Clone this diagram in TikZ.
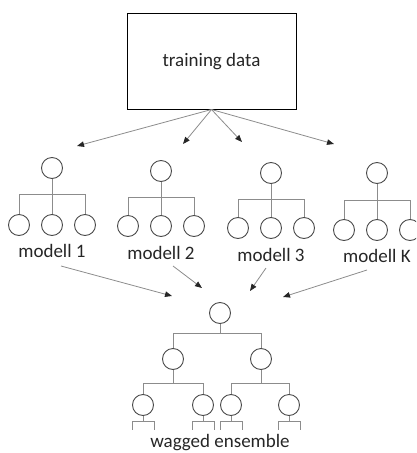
\documentclass[tikz,border=0pt]{standalone}
\usepackage{fontspec}
\setmainfont{Carlito}
\usetikzlibrary{arrows.meta,calc}
\definecolor{edgegray}{HTML}{8C8C8C}
\definecolor{circgray}{HTML}{4A4A4A}
\definecolor{txt}{HTML}{262626}
\tikzset{
  tn/.style={circle,draw=circgray,line width=0.9pt,minimum size=21pt,inner sep=0pt},
  tedge/.style={draw=edgegray,line width=0.9pt},
  arr/.style={draw=edgegray,line width=0.8pt,-{Triangle[length=7pt,width=5.5pt,color=black!85]}},
  lbl/.style={text=txt,font=\fontsize{19}{22}\selectfont,inner sep=0pt},
}
\begin{document}
\begin{tikzpicture}[x=1pt,y=-1pt]
\useasboundingbox (0,0) rectangle (416,453);
\clip (0,0) rectangle (416,453);
% training data box
\node[draw=black,line width=1pt,minimum width=169pt,minimum height=96pt,inner sep=0pt] (box) at (211.5,61) {};
\node[lbl] (td) at (211.5,62) {training data};
% top arrows
\coordinate (e1) at (77,146);
\coordinate (e2) at (183,144);
\coordinate (e3) at (242,142);
\coordinate (e4) at (334,144);
\foreach \e in {e1,e2,e3,e4} \draw[arr] (box.south) -- (\e);
% model trees
\foreach \n/\cx/\ry/\by/\cy/\ly/\txt in {
  a/52/168/194/225/251/modell 1,
  b/161/171/197/226/253/modell 2,
  c/271/173/199/228/255/modell 3,
  d/377/173/200/230/256/modell K} {
  \node[tn] (\n r) at (\cx,\ry) {};
  \coordinate (\n bar) at (\cx,\by);
  \node[tn] (\n 1) at (\cx-33,\cy) {};
  \node[tn] (\n 2) at (\cx,\cy) {};
  \node[tn] (\n 3) at (\cx+33,\cy) {};
  \draw[tedge] (\n r.south) -- (\n bar);
  \draw[tedge] (\n bar) -| (\n 1.north);
  \draw[tedge] (\n bar) -- (\n 2.north);
  \draw[tedge] (\n bar) -| (\n 3.north);
  \node[lbl] (\n lab) at (\cx,\ly) {\txt};
}
% lower arrows
\coordinate (s1) at (61,266);  \coordinate (t1) at (172,296);
\coordinate (s2) at (173,266); \coordinate (t2) at (202,288);
\coordinate (s3) at (266,268); \coordinate (t3) at (250,291);
\coordinate (s4) at (367,270); \coordinate (t4) at (283,297);
\draw[arr] (s1) -- (t1);
\draw[arr] (s2) -- (t2);
\draw[arr] (s3) -- (t3);
\draw[arr] (s4) -- (t4);
% ensemble tree
\node[tn] (er) at (220,313) {};
\coordinate (eb) at (220,333);
\node[tn] (el) at (173,359) {};
\node[tn] (eR) at (261,359) {};
\draw[tedge] (er.south) -- (eb);
\draw[tedge] (eb) -| (el.north);
\draw[tedge] (eb) -| (eR.north);
\coordinate (lb) at (173,383);
\coordinate (rb) at (261,383);
\node[tn] (l1) at (143,405) {};
\node[tn] (l2) at (203,405) {};
\node[tn] (l3) at (231,405) {};
\node[tn] (l4) at (289,405) {};
\draw[tedge] (el.south) -- (lb);
\draw[tedge] (lb) -| (l1.north);
\draw[tedge] (lb) -| (l2.north);
\draw[tedge] (eR.south) -- (rb);
\draw[tedge] (rb) -| (l3.north);
\draw[tedge] (rb) -| (l4.north);
\foreach \l in {l1,l2,l3,l4} {
  \coordinate (\l b) at ($(\l.south)+(0,5)$);
  \draw[tedge] (\l.south) -- (\l b);
  \draw[tedge] ($(\l b)+(-11,9)$) -- ($(\l b)+(-11,0)$) -- ($(\l b)+(11,0)$) -- ($(\l b)+(11,9)$);
}
\node[lbl,anchor=base] (ens) at (220,447) {wagged ensemble};
\end{tikzpicture}
\end{document}
